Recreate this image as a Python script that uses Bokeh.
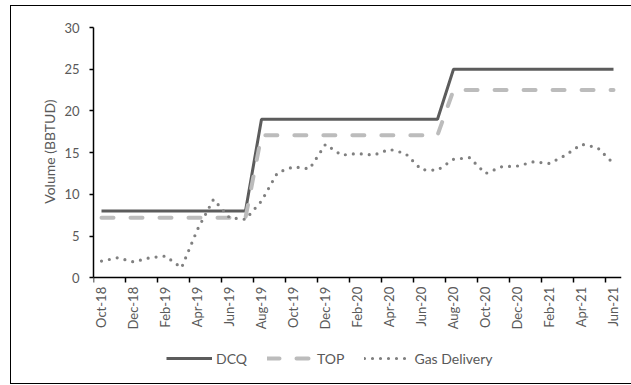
import math
from bokeh.plotting import figure
from bokeh.models import Range1d, FixedTicker, Legend, LegendItem, Title
from bokeh.embed import file_html
from bokeh.resources import INLINE

months = ["Oct-18", "Nov-18", "Dec-18", "Jan-19", "Feb-19", "Mar-19", "Apr-19", "May-19",
          "Jun-19", "Jul-19", "Aug-19", "Sep-19", "Oct-19", "Nov-19", "Dec-19", "Jan-20",
          "Feb-20", "Mar-20", "Apr-20", "May-20", "Jun-20", "Jul-20", "Aug-20", "Sep-20",
          "Oct-20", "Nov-20", "Dec-20", "Jan-21", "Feb-21", "Mar-21", "Apr-21", "May-21",
          "Jun-21"]
dcq = [8, 8, 8, 8, 8, 8, 8, 8, 8, 8,
       19, 19, 19, 19, 19, 19, 19, 19, 19, 19, 19, 19,
       25, 25, 25, 25, 25, 25, 25, 25, 25, 25, 25]
top = [7.2, 7.2, 7.2, 7.2, 7.2, 7.2, 7.2, 7.2, 7.2, 7.2,
       17.1, 17.1, 17.1, 17.1, 17.1, 17.1, 17.1, 17.1, 17.1, 17.1, 17.1, 17.1,
       22.5, 22.5, 22.5, 22.5, 22.5, 22.5, 22.5, 22.5, 22.5, 22.5, 22.5]
gas = [2.0, 2.4, 1.9, 2.4, 2.6, 1.2, 5.8, 9.4, 7.2, 7.0,
       9.2, 12.6, 13.3, 13.05, 16.0, 14.7, 14.9, 14.7, 15.4, 14.9, 12.95, 12.9,
       14.2, 14.4, 12.5, 13.3, 13.4, 13.9, 13.7, 14.7, 16.0, 15.6, 13.7]
y_ticks = [0, 5, 10, 15, 20, 25, 30]
tick_labels = months[::2]

FONT = "Lato"
TXT = "#595959"

x = [i + 0.5 for i in range(len(months))]

# frame spans from the 30 line down to the bottom of the box; the x axis sits at y=0
Y_MAX = 30
Y_MIN = -106 * Y_MAX / 251.0

p = figure(frame_width=528, frame_height=356, output_backend="svg", toolbar_location=None,
           x_range=Range1d(0, len(months)), y_range=Range1d(Y_MIN, Y_MAX),
           min_border_left=82, min_border_right=10, min_border_top=21, min_border_bottom=0)
p.margin = (5, 0, 0, 10)
p.styles = {"border": "1px solid #000000", "box-sizing": "border-box"}
p.outline_line_color = None
p.xgrid.grid_line_color = None
p.ygrid.grid_line_color = None
p.background_fill_color = "white"
p.border_fill_color = "white"

r_dcq = p.line(x, dcq, line_color="#5c5c5c", line_width=3)
r_top = p.line(x, top, line_color="#bcbcbc", line_width=4, line_dash="12 17", line_cap="round")
r_gas = p.line(x, gas, line_color="#808080", line_width=3.2, line_dash="0 8", line_cap="round")

# x axis
xa = p.xaxis[0]
xa.fixed_location = 0
major = [i + 0.5 for i in range(0, len(months), 2)]
minor = [i for i in range(0, len(months), 2)]
xa.ticker = FixedTicker(ticks=major, minor_ticks=minor)
xa.major_label_overrides = {m: lab for m, lab in zip(major, tick_labels)}
xa.major_label_orientation = math.pi / 2
xa.major_tick_out = 0
xa.major_tick_in = 0
xa.minor_tick_out = 5
xa.minor_tick_in = 0
xa.minor_tick_line_color = "#000000"
xa.minor_tick_line_width = 1.5
xa.axis_line_color = "#000000"
xa.axis_line_width = 1.5
xa.major_label_standoff = 4
xa.major_label_text_font = FONT
xa.major_label_text_font_size = "13px"
xa.major_label_text_color = TXT

# y axis
ya = p.yaxis[0]
ya.bounds = (0, Y_MAX)
ya.ticker = FixedTicker(ticks=y_ticks)
ya.major_tick_out = 4
ya.major_tick_in = 0
ya.minor_tick_line_color = None
ya.major_tick_line_color = "#000000"
ya.major_tick_line_width = 1.5
ya.axis_line_color = "#000000"
ya.axis_line_width = 1.5
ya.major_label_standoff = 10
ya.major_label_text_font = FONT
ya.major_label_text_font_size = "13px"
ya.major_label_text_color = TXT

ytitle = Title(text="Volume (BBTUD)", align="right", offset=72, standoff=8,
               text_font=FONT, text_font_size="14px", text_font_style="normal",
               text_color=TXT)
p.add_layout(ytitle, "left")

legend = Legend(items=[LegendItem(label="DCQ", renderers=[r_dcq]),
                       LegendItem(label="TOP", renderers=[r_top]),
                       LegendItem(label="Gas Delivery", renderers=[r_gas])],
                orientation="horizontal", location=(73, 15),
                border_line_color=None, background_fill_alpha=0,
                padding=0, margin=0, spacing=20, glyph_width=46, glyph_height=20,
                label_height=20, label_standoff=4,
                label_text_font=FONT, label_text_font_size="14px", label_text_color=TXT)
p.add_layout(legend)

open("out.html", "w").write(file_html(p, INLINE))
